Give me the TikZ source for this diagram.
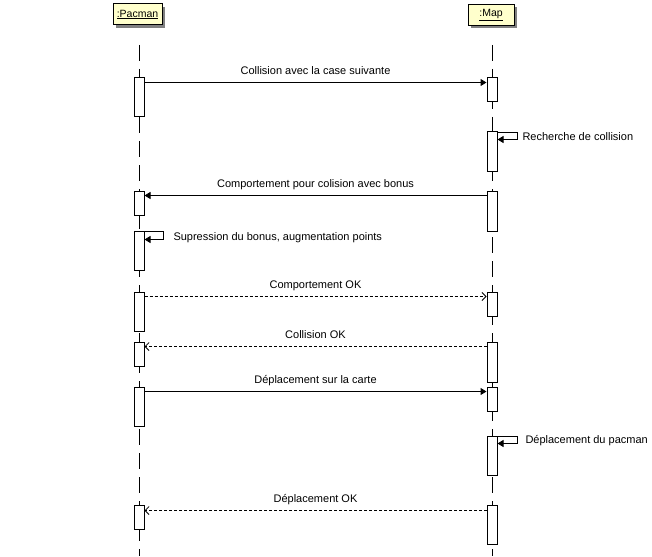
\documentclass[tikz,border=0pt]{standalone}
\usepackage{fontspec}
\setmainfont{Liberation Sans}
\usetikzlibrary{arrows.meta,%
                shadows}
\definecolor{headyellow}{RGB}{255,255,204}

\begin{document}
\begin{tikzpicture}
  [x=1pt,y=-1pt,line width=1pt,font=\fontsize{11}{13}\selectfont,
   head/.style={draw,fill=headyellow,minimum width=#1,minimum height=21pt,inner sep=0pt,
     font=\fontsize{10.5}{12}\selectfont,
     drop shadow={shadow xshift=3pt,shadow yshift=-3pt,fill=black!50,opacity=1}},
   act/.style={draw,fill=white,minimum width=10pt,minimum height=#1,inner sep=0pt},
   life/.style={dash pattern=on 16pt off 8pt},
   call/.style={-{Triangle[length=6pt,width=7pt]}},
   reply/.style={dash pattern=on 3pt off 2pt,-{Straight Barb[length=4pt,width=8pt,line width=0.8pt]}},
   selflabel/.style={anchor=base west,inner sep=0pt}]
  \fill[white] (0,0) rectangle (652,556);
  \useasboundingbox (0,0) rectangle (652,556);
  \node[head=49pt] (pacman) at (137.5,14.5) {\underline{:Pacman}};
  \node[head=46pt] (map) at (491,15) {\underline{:Map}};
  \coordinate (pend) at (139,556);
  \coordinate (mend) at (492,556);
  \draw[life] (139,45) -- (pend);
  \draw[life] (492,45) -- (mend);
  \foreach \name/\top/\bot in {p1/78/117,p2/191/215,p3/231/270,p4/292/331,p5/342/366,p6/387/426,p7/505/529}
    \node[act=\bot-\top] (\name) at (139,{(\top+\bot)/2}) {};
  \foreach \name/\top/\bot in {m1/78/102,m2/132/171,m3/191/231,m4/292/316,m5/342/382,m6/387/411,m7/436/475,m8/505/544}
    \node[act=\bot-\top] (\name) at (492,{(\top+\bot)/2}) {};
  \draw[call] ([yshift=-5pt]p1.north east) -- ([yshift=-5pt]m1.north west)
    node[midway,anchor=base,yshift=8pt] {Collision avec la case suivante};
  \draw[call] ([yshift=-1pt]m2.north east) -- ++(20,0) -- ++(0,7) -- ([yshift=-8pt]m2.north east);
  \node[selflabel] (lrech) at (522,141) {Recherche de collision};
  \draw[call] ([yshift=-5pt]m3.north west) -- ([yshift=-5pt]p2.north east)
    node[midway,anchor=base,yshift=8pt] {Comportement pour colision avec bonus};
  \draw[call] ([yshift=-1pt]p3.north east) -- ++(19,0) -- ++(0,8) -- ([yshift=-9pt]p3.north east);
  \node[selflabel] (lsupp) at (173,240) {Supression du bonus, augmentation points};
  \draw[reply] ([yshift=-5pt]p4.north east) -- ([yshift=-5pt]m4.north west)
    node[midway,anchor=base,yshift=8pt] {Comportement OK};
  \draw[reply] ([yshift=-5pt]m5.north west) -- ([yshift=-5pt]p5.north east)
    node[midway,anchor=base,yshift=8pt] {Collision OK};
  \draw[call] ([yshift=-5pt]p6.north east) -- ([yshift=-5pt]m6.north west)
    node[midway,anchor=base,yshift=8pt] {Déplacement sur la carte};
  \draw[call] ([yshift=-1pt]m7.north east) -- ++(20,0) -- ++(0,7) -- ([yshift=-8pt]m7.north east);
  \node[selflabel] (ldepl) at (525,443) {Déplacement du pacman};
  \draw[reply] ([yshift=-6pt]m8.north west) -- ([yshift=-6pt]p7.north east)
    node[midway,anchor=base,yshift=8pt] {Déplacement OK};
\end{tikzpicture}
\end{document}
